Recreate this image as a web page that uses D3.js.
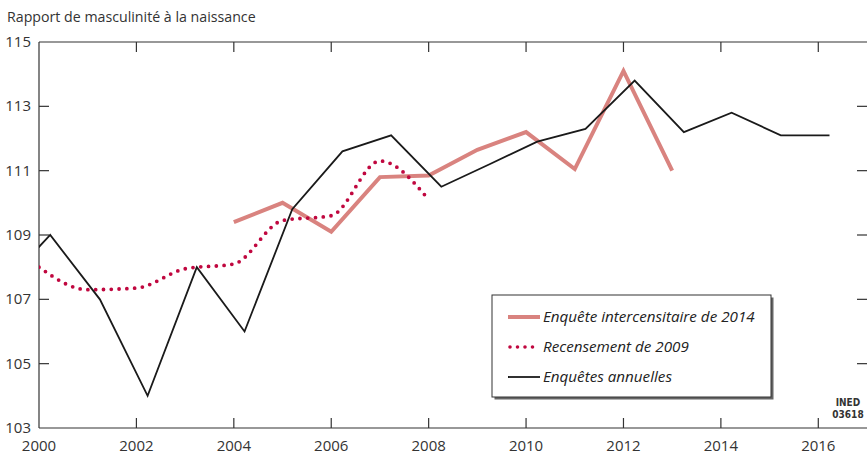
<!DOCTYPE html>
<html>
<head>
<meta charset="utf-8">
<script src="https://cdn.jsdelivr.net/npm/d3@7"></script>
<style>
  body { margin: 0; background: #fff; }
  svg { display: block; font-family: "Open Sans", sans-serif; }
  .tick-label { fill: #333; font-size: 15px; }
</style>
</head>
<body>
<svg></svg>
<script>
// Enquêtes annuelles (points placed at survey mid-period)
let annualYears = [1999.23, 2000.23, 2001.25, 2002.23, 2003.24, 2004.22, 2005.2, 2006.23, 2007.23, 2008.26, 2009.25, 2010.23, 2011.22, 2012.23, 2013.24, 2014.22, 2015.23, 2016.23];
let annualValues = [107.4, 109.0, 107.0, 104.0, 108.0, 106.0, 109.8, 111.6, 112.1, 110.5, 111.2, 111.9, 112.3, 113.8, 112.2, 112.8, 112.1, 112.1];

// Recensement de 2009
let censusYears = [2000, 2001, 2002, 2003, 2004, 2005, 2006, 2007, 2008];
let censusValues = [108.0, 107.3, 107.35, 107.95, 108.1, 109.45, 109.6, 111.3, 110.1];

// Enquête intercensitaire de 2014
let interYears = [2004, 2005, 2006, 2007, 2008, 2009, 2010, 2011, 2012, 2013];
let interValues = [109.4, 110.0, 109.1, 110.8, 110.85, 111.65, 112.2, 111.05, 114.1, 111.0];

let xTicks = [2000, 2002, 2004, 2006, 2008, 2010, 2012, 2014, 2016];
let yTicks = [103, 105, 107, 109, 111, 113, 115];

let width = 867;
let height = 454;
let plotLeft = 39, plotRight = 867, plotTop = 42, plotBottom = 428;
let tickLen = 10;
let axisColor = "#333";

let svg = d3.select("svg").attr("width", width).attr("height", height);

let x = d3.scaleLinear().domain([2000, 2017]).range([plotLeft, plotRight]);
let y = d3.scaleLinear().domain([103, 115]).range([plotBottom, plotTop]);

svg.append("defs")
  .append("clipPath")
  .attr("id", "plot-clip")
  .append("rect")
  .attr("x", plotLeft)
  .attr("y", plotTop)
  .attr("width", plotRight - plotLeft)
  .attr("height", plotBottom - plotTop);

// title
svg.append("text")
  .attr("x", 7)
  .attr("y", 22)
  .attr("fill", "#333")
  .style("font-size", "14.2px")
  .text("Rapport de masculinité à la naissance");

// frame lines: left, top, bottom
let frame = svg.append("g").attr("stroke", axisColor).attr("stroke-width", 1.2);
frame.append("line").attr("x1", plotLeft).attr("x2", plotLeft).attr("y1", plotTop).attr("y2", plotBottom);
frame.append("line").attr("x1", plotLeft).attr("x2", plotRight).attr("y1", plotTop).attr("y2", plotTop);
frame.append("line").attr("x1", plotLeft).attr("x2", plotRight).attr("y1", plotBottom).attr("y2", plotBottom);

// x ticks on top and bottom, pointing inward
let xt = svg.append("g").attr("stroke", axisColor).attr("stroke-width", 1.2);
xt.selectAll(".xb")
  .data(xTicks.slice(1))
  .enter()
  .append("line")
  .attr("x1", d => x(d)).attr("x2", d => x(d))
  .attr("y1", plotBottom).attr("y2", plotBottom - tickLen);
xt.selectAll(".xt")
  .data(xTicks.slice(1))
  .enter()
  .append("line")
  .attr("x1", d => x(d)).attr("x2", d => x(d))
  .attr("y1", plotTop).attr("y2", plotTop + tickLen);

svg.append("g")
  .selectAll("text")
  .data(xTicks)
  .enter()
  .append("text")
  .attr("class", "tick-label")
  .attr("x", d => x(d))
  .attr("y", 451)
  .attr("text-anchor", "middle")
  .text(d => d);

// y ticks on left and right, pointing inward
let yt = svg.append("g").attr("stroke", axisColor).attr("stroke-width", 1.2);
let innerY = yTicks.filter(d => d !== 103 && d !== 115);
yt.selectAll(".yl")
  .data(innerY)
  .enter()
  .append("line")
  .attr("x1", plotLeft).attr("x2", plotLeft + tickLen)
  .attr("y1", d => y(d)).attr("y2", d => y(d));
yt.selectAll(".yr")
  .data(innerY)
  .enter()
  .append("line")
  .attr("x1", plotRight).attr("x2", plotRight - tickLen)
  .attr("y1", d => y(d)).attr("y2", d => y(d));

svg.append("g")
  .selectAll("text")
  .data(yTicks)
  .enter()
  .append("text")
  .attr("class", "tick-label")
  .attr("x", 31)
  .attr("y", d => y(d) + 5)
  .attr("text-anchor", "end")
  .text(d => d);

// series
let plot = svg.append("g").attr("clip-path", "url(#plot-clip)");

let interLine = d3.line().x(d => x(d[0])).y(d => y(d[1]));
plot.append("path")
  .datum(d3.zip(interYears, interValues))
  .attr("d", interLine)
  .attr("fill", "none")
  .attr("stroke", "#d9837f")
  .attr("stroke-width", 4)
  .attr("stroke-linejoin", "miter");

let censusLine = d3.line().curve(d3.curveMonotoneX).x(d => x(d[0])).y(d => y(d[1]));
plot.append("path")
  .datum(d3.zip(censusYears, censusValues))
  .attr("d", censusLine)
  .attr("fill", "none")
  .attr("stroke", "#c0073f")
  .attr("stroke-width", 3.8)
  .attr("stroke-linecap", "round")
  .attr("stroke-dasharray", "0 7.8");

let annualLine = d3.line().x(d => x(d[0])).y(d => y(d[1]));
plot.append("path")
  .datum(d3.zip(annualYears, annualValues))
  .attr("d", annualLine)
  .attr("fill", "none")
  .attr("stroke", "#1a1a1a")
  .attr("stroke-width", 1.8);

// legend
let legend = svg.append("g").attr("transform", "translate(492,295)");
legend.append("rect")
  .attr("x", 2.5).attr("y", 2.5)
  .attr("width", 279).attr("height", 102)
  .attr("fill", "#666");
legend.append("rect")
  .attr("width", 279).attr("height", 102)
  .attr("fill", "#fff")
  .attr("stroke", "#333")
  .attr("stroke-width", 1);

let legendItems = [
  { label: "Enquête intercensitaire de 2014", color: "#d9837f", width: 4, dash: null },
  { label: "Recensement de 2009", color: "#c0073f", width: 3.6, dash: "0 7.5" },
  { label: "Enquêtes annuelles", color: "#1a1a1a", width: 1.8, dash: null }
];
let rows = legend.selectAll(".row")
  .data(legendItems)
  .enter()
  .append("g")
  .attr("transform", (d, i) => `translate(0,${22 + i * 30})`);
rows.append("line")
  .attr("x1", d => d.dash ? 18 : 16).attr("x2", 48)
  .attr("y1", 0).attr("y2", 0)
  .attr("stroke", d => d.color)
  .attr("stroke-width", d => d.width)
  .attr("stroke-linecap", d => d.dash ? "round" : "butt")
  .attr("stroke-dasharray", d => d.dash);
rows.append("text")
  .attr("x", 51)
  .attr("y", 5)
  .attr("fill", "#222")
  .style("font-size", "15.2px")
  .style("font-style", "italic")
  .text(d => d.label);

// source note
let note = svg.append("g")
  .style("font-family", "'DejaVu Sans Condensed', 'DejaVu Sans', sans-serif")
  .style("font-stretch", "condensed")
  .style("font-weight", "bold")
  .style("font-size", "10px")
  .attr("fill", "#333")
  .attr("text-anchor", "middle");
note.append("text").attr("x", 848).attr("y", 406).text("INED");
note.append("text").attr("x", 848).attr("y", 418).text("03618");
</script>
</body>
</html>
